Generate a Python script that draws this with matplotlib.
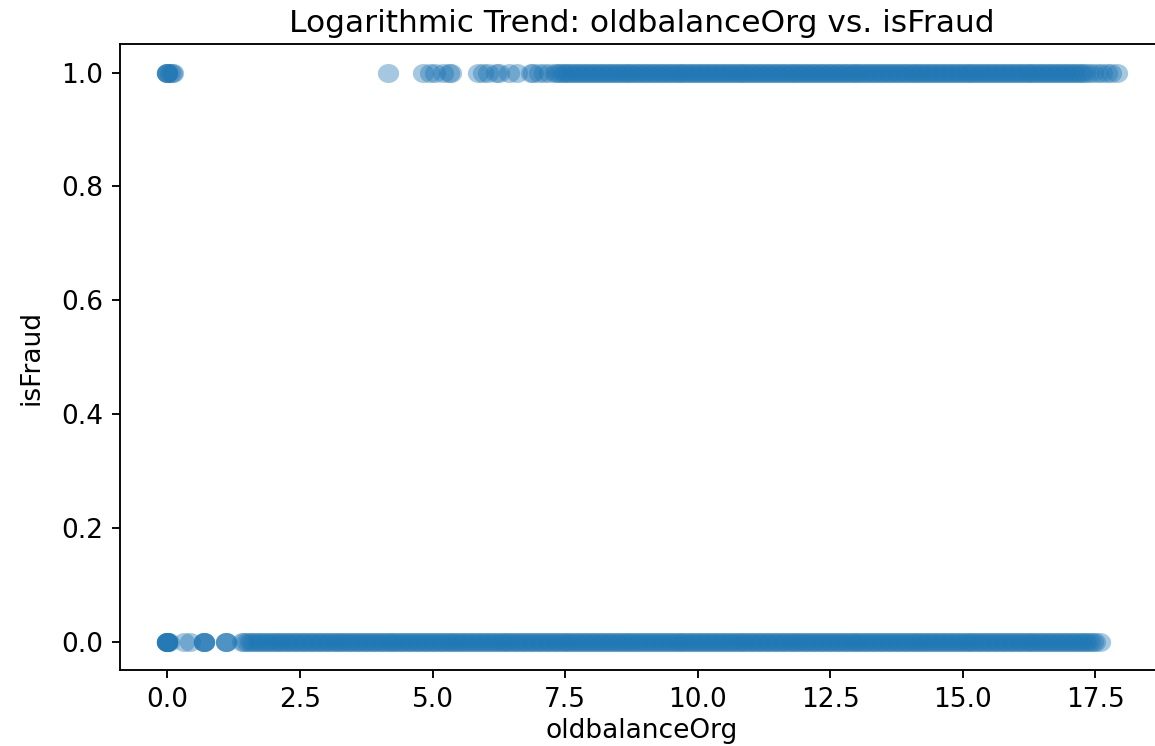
import numpy as np
import matplotlib.pyplot as plt

# log1p(oldbalanceOrg) positions read along each class row
legit_x = np.array("""
0.0 0.0 0.0 0.0 0.0 0.0 0.02 0.32 0.42 0.69 0.69 0.69 0.69 1.10 1.10 1.10
1.40 1.45 1.50 1.55 1.60 1.65 1.70 1.75 1.80 1.85 1.90 1.95
2.00 2.05 2.10 2.15 2.20 2.25 2.30 2.35 2.40 2.45 2.50 2.55 2.60 2.65 2.70 2.75 2.80 2.85 2.90 2.95
3.00 3.05 3.10 3.15 3.20 3.25 3.30 3.35 3.40 3.45 3.50 3.55 3.60 3.65 3.70 3.75 3.80 3.85 3.90 3.95
4.00 4.05 4.10 4.15 4.20 4.25 4.30 4.35 4.40 4.45 4.50 4.55 4.60 4.65 4.70 4.75 4.80 4.85 4.90 4.95
5.00 5.05 5.10 5.15 5.20 5.25 5.30 5.35 5.40 5.45 5.50 5.55 5.60 5.65 5.70 5.75 5.80 5.85 5.90 5.95
6.00 6.05 6.10 6.15 6.20 6.25 6.30 6.35 6.40 6.45 6.50 6.55 6.60 6.65 6.70 6.75 6.80 6.85 6.90 6.95
7.00 7.05 7.10 7.15 7.20 7.25 7.30 7.35 7.40 7.45 7.50 7.55 7.60 7.65 7.70 7.75 7.80 7.85 7.90 7.95
8.00 8.05 8.10 8.15 8.20 8.25 8.30 8.35 8.40 8.45 8.50 8.55 8.60 8.65 8.70 8.75 8.80 8.85 8.90 8.95
9.00 9.05 9.10 9.15 9.20 9.25 9.30 9.35 9.40 9.45 9.50 9.55 9.60 9.65 9.70 9.75 9.80 9.85 9.90 9.95
10.00 10.05 10.10 10.15 10.20 10.25 10.30 10.35 10.40 10.45 10.50 10.55 10.60 10.65 10.70 10.75 10.80 10.85 10.90 10.95
11.00 11.05 11.10 11.15 11.20 11.25 11.30 11.35 11.40 11.45 11.50 11.55 11.60 11.65 11.70 11.75 11.80 11.85 11.90 11.95
12.00 12.05 12.10 12.15 12.20 12.25 12.30 12.35 12.40 12.45 12.50 12.55 12.60 12.65 12.70 12.75 12.80 12.85 12.90 12.95
13.00 13.05 13.10 13.15 13.20 13.25 13.30 13.35 13.40 13.45 13.50 13.55 13.60 13.65 13.70 13.75 13.80 13.85 13.90 13.95
14.00 14.05 14.10 14.15 14.20 14.25 14.30 14.35 14.40 14.45 14.50 14.55 14.60 14.65 14.70 14.75 14.80 14.85 14.90 14.95
15.00 15.05 15.10 15.15 15.20 15.25 15.30 15.35 15.40 15.45 15.50 15.55 15.60 15.65 15.70 15.75 15.80 15.85 15.90 15.95
16.00 16.05 16.10 16.15 16.20 16.25 16.30 16.35 16.40 16.45 16.50 16.55 16.60 16.65 16.70 16.75 16.80 16.85 16.90 16.95
17.00 17.05 17.10 17.15 17.20 17.25 17.30 17.35 17.40 17.45 17.50 17.58
""".split(), dtype=float)

fraud_x = np.array("""
0.0 0.0 0.0 0.0 0.04 0.08 0.10
4.16 4.82 4.95 5.05 5.20 5.30 5.35 5.85 5.95 6.05 6.20 6.25 6.45 6.60
6.85 6.90 7.00 7.10 7.20 7.30
7.35 7.40 7.45 7.50 7.55 7.60 7.65 7.70 7.75 7.80 7.85 7.90 7.95
8.00 8.05 8.10 8.15 8.20 8.25 8.30 8.35 8.40 8.45 8.50 8.55 8.60 8.65 8.70 8.75 8.80 8.85 8.90 8.95
9.00 9.05 9.10 9.15 9.20 9.25 9.30 9.35 9.40 9.45 9.50 9.55 9.60 9.65 9.70 9.75 9.80 9.85 9.90 9.95
10.00 10.05 10.10 10.15 10.20 10.25 10.30 10.35 10.40 10.45 10.50 10.55 10.60 10.65 10.70 10.75 10.80 10.85 10.90 10.95
11.00 11.05 11.10 11.15 11.20 11.25 11.30 11.35 11.40 11.45 11.50 11.55 11.60 11.65 11.70 11.75 11.80 11.85 11.90 11.95
12.00 12.05 12.10 12.15 12.20 12.25 12.30 12.35 12.40 12.45 12.50 12.55 12.60 12.65 12.70 12.75 12.80 12.85 12.90 12.95
13.00 13.05 13.10 13.15 13.20 13.25 13.30 13.35 13.40 13.45 13.50 13.55 13.60 13.65 13.70 13.75 13.80 13.85 13.90 13.95
14.00 14.05 14.10 14.15 14.20 14.25 14.30 14.35 14.40 14.45 14.50 14.55 14.60 14.65 14.70 14.75 14.80 14.85 14.90 14.95
15.00 15.05 15.10 15.15 15.20 15.25 15.30 15.35 15.40 15.45 15.50 15.55 15.60 15.65 15.70 15.75 15.80 15.85 15.90 15.95
16.00 16.05 16.10 16.15 16.20 16.25 16.30 16.35 16.40 16.45 16.50 16.55 16.60 16.65 16.70 16.75 16.80 16.85 16.90 16.95
17.00 17.05 17.10 17.15 17.20 17.25 17.30 17.38 17.46 17.55 17.63 17.72 17.80 17.90
""".split(), dtype=float)

x = np.concatenate([legit_x, fraud_x])
y = np.concatenate([np.zeros(len(legit_x)), np.ones(len(fraud_x))])

# slightly wide ellipse marker
t = np.linspace(0, 2 * np.pi, 40)
oval = np.column_stack([1.12 * np.cos(t), np.sin(t)])

fig = plt.figure(figsize=(11.55, 7.46), dpi=100)
ax = fig.add_axes([0.1039, 0.1019, 0.904, 0.839])

ax.scatter(x, y, alpha=0.4, s=235, marker=oval, linewidths=0, color='#1f77b4')

ax.set_title('Logarithmic Trend: oldbalanceOrg vs. isFraud', fontsize=22.5, pad=9)
ax.set_xlabel('oldbalanceOrg', fontsize=19, labelpad=4)
ax.set_ylabel('isFraud', fontsize=19, labelpad=12)
ax.tick_params(labelsize=19, length=6, width=1.35, pad=6)
for sp in ax.spines.values():
    sp.set_linewidth(1.35)

fig.savefig('out.png', dpi=100)
